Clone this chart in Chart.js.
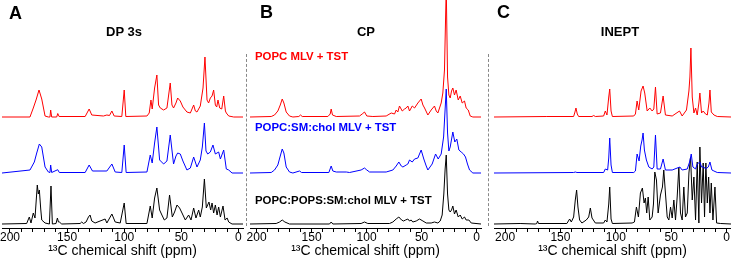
<!DOCTYPE html>
<html>
<head>
<meta charset="utf-8">
<script src="https://cdn.jsdelivr.net/npm/chart.js@4.4.1/dist/chart.umd.min.js"></script>
<style>
body{margin:0;width:731px;height:259px;overflow:hidden;background:#fff;font-family:"Liberation Sans",Arial,sans-serif;position:relative}
.panel{position:absolute;top:0}
.txt{position:absolute;white-space:nowrap;line-height:1}
.letter{font-size:18px;font-weight:bold}
.head{font-size:13px;font-weight:bold;transform:translateX(-50%)}
.sample{font-size:11.4px;font-weight:bold}
.dash{position:absolute;top:54px;height:172px;width:0;border-left:1px dashed #888}
</style>
</head>
<body>
<div class="panel" id="pA"><canvas id="chartA"></canvas></div>
<div class="panel" id="pB"><canvas id="chartB"></canvas></div>
<div class="panel" id="pC"><canvas id="chartC"></canvas></div>

<div class="dash" style="left:246px"></div>
<div class="dash" style="left:488px"></div>

<div class="txt letter" style="left:9px;top:4px">A</div>
<div class="txt letter" style="left:260px;top:3px">B</div>
<div class="txt letter" style="left:497px;top:3px">C</div>
<div class="txt head" style="left:124px;top:25px">DP 3s</div>
<div class="txt head" style="left:366px;top:25px">CP</div>
<div class="txt head" style="left:620px;top:25px">INEPT</div>
<div class="txt sample" style="left:255px;top:51px;color:#ff0000">POPC MLV + TST</div>
<div class="txt sample" style="left:255px;top:122px;color:#0000ff">POPC:SM:chol MLV + TST</div>
<div class="txt sample" style="left:255px;top:195px;color:#000">POPC:POPS:SM:chol MLV + TST</div>

<script>
// spectra: [ppm, intensity]

// A - DP 3s
const dpPopc = [[207,0],[182.5,0],[179.6,9],[177.2,17],[174.6,27],[172.2,18],[169.3,1],[166.4,0],[165,0],[164.4,7],[163.5,0],[159.1,0],[158.2,3.5],[157,0.5],[134.2,0.5],[130.7,8],[128.4,2],[118.2,1],[115.2,2],[112.9,1.5],[110.8,6],[108.8,1],[102.1,0.5],[100,27],[98.6,0.5],[80.1,1],[78.1,4],[76.6,17],[75.5,8],[73.4,29],[71.4,42],[69.9,12],[68.4,9],[65.5,7],[62.6,9],[59.7,34],[58.2,12],[56.8,9],[54.7,14],[53.2,19],[50.9,16],[48.6,10],[45.1,5],[42.1,4],[39.2,12],[37.7,6],[36.3,5],[33.4,11],[31,29],[29.3,60],[27.5,17],[26.1,14],[24.6,19],[23.1,21],[21.7,27],[20.2,12],[19,10],[17.9,17],[16.4,9],[14.6,8],[12.9,21],[11.4,6],[10.6,4],[8.5,1],[4.1,0],[-4,0]];
const dpSm = [[207,0],[182.5,3],[178.7,11],[176.6,20],[174.3,29],[172.2,26],[169.3,6],[166.4,1],[165,0.5],[164.4,8],[163.5,0.5],[158.2,3.3],[156.8,0.5],[134.2,0.5],[130.7,8],[127.8,2],[115.2,2],[110.8,9],[107.9,1],[102.1,0.5],[100,28],[98.3,0.5],[80.1,1],[77.2,18],[75.5,10],[73.4,30],[71.4,46],[69,13],[65.5,9],[62.6,12],[59.7,38],[56.8,9],[54.7,17],[53.2,20],[50.9,19],[48.6,12],[45.1,3],[42.1,5],[39.2,16],[36.3,6],[33.4,13],[31.6,26],[29.8,50],[28.4,22],[26.9,19],[24.6,21],[22.3,28],[20.2,19],[17.3,21],[15.8,14],[12.9,23],[10.6,4],[8.5,3],[5.6,0],[-4,0]];
const dpPops = [[207,0],[185.4,0.5],[183.1,7],[181.6,1],[179.6,11],[178.1,6],[176.1,39],[175.2,30],[174.3,34],[173.1,15],[172.2,4],[169.3,1],[165.5,0],[164.1,38],[162.9,0],[159.7,0.5],[158.5,6],[157.6,2],[156.8,2],[154.7,0],[138.6,0.5],[137.2,2],[135.7,0.5],[133.4,2],[131.3,7],[129.9,9],[128.4,3],[125.5,1],[116.7,5],[115.2,1],[110.8,10],[107.9,2],[103.5,1],[100,21],[98.3,0.5],[80.1,0.5],[77.2,18],[75.5,6],[73.4,26],[71.4,36],[69,14],[67,9],[64.9,4],[62.6,6],[60.3,29],[57.9,7],[55.9,12],[53.8,19],[51.5,16],[49.4,11],[46.5,4],[43.6,9],[41.5,4],[39.2,16],[37.2,6],[34.8,14],[33.4,7],[31.6,17],[29.8,45],[28.1,16],[25.8,22],[24.3,14],[23.1,21],[21.7,11],[20.2,19],[18.7,9],[17.3,17],[15.8,7],[13.5,18],[11.7,4],[9.9,6],[8.5,2],[5.6,0],[-4,0]];

// B - CP
const cpPopc = [[206,0],[186.7,0.5],[183.7,2],[180.7,6],[178.5,12],[176.7,18],[175.2,14],[173.1,5],[170.1,1],[167,0],[161.6,0.5],[160.1,2],[158.5,0.5],[135.2,0.5],[133.1,3],[132.2,8],[131,2],[127.6,0.5],[106.4,1],[104,3],[101.9,5],[99.8,1],[94.3,0.5],[82.2,1],[77.6,4],[74.6,3],[73.1,7],[71.6,5],[70.1,11],[67.6,6],[65.5,8],[64,9],[62.5,11],[61,6],[58.5,11],[56.4,9],[53.4,14],[50.4,18],[48.8,12],[47.3,9],[44.3,2],[41.3,7],[38.3,11],[36.7,6],[35.2,4],[32.2,14],[30.7,24],[29.2,47],[27.6,130],[26.4,40],[25.2,22],[24,19],[22.8,26],[21.6,29],[20.1,22],[18.6,27],[16.7,17],[14.9,21],[13.1,14],[11,16],[9.5,9],[7.6,7],[5.8,1],[3.4,0],[-4,0]];
const cpSm = [[206,0],[186.7,0.5],[183.7,3],[180.7,8],[178.5,17],[176.7,24],[175.2,20],[173.1,6],[170.1,1],[167,0],[161,2],[159.1,0.5],[134.3,0.5],[132.2,7],[130.7,2],[127.6,1],[118.5,1],[115.5,0.5],[105,3],[101.9,5],[99.8,3],[97.3,1],[82.2,1],[76.1,3],[73.1,7],[70.7,11],[68.5,7],[67,6],[64,8],[62.5,9],[61,13],[58.5,11],[56.4,14],[53.4,15],[50.4,23],[48,14],[45.8,7],[44.3,3],[40.4,9],[37.3,19],[34.9,14],[32.2,19],[30,36],[28.8,60],[27.6,84],[26.4,40],[25.2,22],[24,26],[21.6,41],[19.8,31],[18,34],[16.1,23],[14,21],[11.9,19],[10.1,16],[8.3,9],[6.4,3],[3.4,0],[-4,0]];
const cpPops = [[206,0],[182.2,0.5],[179.1,2],[176.7,4],[174.3,2],[170.1,0],[133.7,0],[132.2,2],[130.7,0],[105,0.5],[101.9,2],[98.9,0.5],[79.2,0.5],[76.1,2],[73.1,5],[70.7,7],[68.2,4],[66.4,3],[64.6,4],[62.5,5],[61,3],[59.5,4],[58,2],[54.9,3],[51.9,5],[48.8,3],[45.8,1],[41.3,1],[38.3,2],[35.2,1],[33.1,3],[31.3,9],[29.8,30],[28.6,55],[27.6,69],[26.4,30],[25.2,14],[24,12],[22.8,14],[21.6,18],[20.1,10],[18.6,14],[16.7,7],[14.9,9],[13.1,5],[11,7],[9.5,4],[7,4],[4.9,1],[-4,0]];

// C - INEPT
const inPopc = [[210,0],[162.3,0.5],[138.1,0.5],[136.9,5],[136,9],[134.8,3],[133.6,0.5],[121.5,0.5],[120,1.5],[118.5,0.5],[111,1],[109.5,6],[108,2],[106.4,20],[105.5,28],[104.3,6],[103.1,0.5],[83.8,1],[82.3,3],[80.8,16],[79.3,7],[77.2,26],[75.4,31],[73.9,24],[71.7,6],[69.3,9],[67.2,6],[65.7,8],[64.2,30],[62.7,3],[59.7,4],[57.3,21],[55.2,2],[49.1,1],[42.5,6],[40.1,1],[36.2,7],[34,26],[33.1,40],[32.2,69],[31,20],[29.5,4],[28,9],[26.5,2],[25,14],[24.1,24],[22.6,4],[21.1,6],[19,3],[17.4,2],[15.9,14],[15,27],[13.8,5],[11.4,2],[8.4,0.5],[-4,0]];
const inSm = [[210,0],[138.1,0.5],[136.6,1],[135.1,0.5],[111,0.5],[109.5,4],[107.4,3],[106.4,15],[105.5,35],[104.3,8],[103.1,0.5],[83.8,0.5],[82.3,2],[80.8,19],[79,12],[77.5,27],[76.3,33],[75.4,40],[74.2,23],[72.4,13],[70.2,6],[67.2,4],[65.7,6],[64.2,38],[62.7,4],[59.7,4],[57.3,14],[55.2,3],[49.1,3],[42.2,6],[40.1,3],[35.5,4],[33.4,11],[31.9,19],[30.4,6],[28,4],[26.5,9],[24.1,11],[22.6,6],[20.5,6],[19,4],[16.5,6],[15,11],[13.2,3],[11.4,2],[8.4,0.5],[-4,0]];
const inPops = [[210,0],[186.4,0.5],[172.8,0],[171.3,0.5],[170.7,3],[169.8,0.5],[144.2,0.5],[141.7,5],[140.2,2],[138.1,7],[136.6,24],[135.4,34],[134.2,17],[132.7,4],[130.6,1],[126.7,4],[124.5,7],[123,16],[121.5,6],[118.5,1],[111,1],[109.5,4],[108,2],[106.4,20],[105.5,37],[104.3,5],[103.1,0.5],[85.3,1],[83.2,2],[81.4,17],[79.6,7],[77.8,31],[76,36],[74.5,21],[73.3,26],[72.1,11],[70.8,27],[69.3,4],[67.2,7],[66,20],[64.8,52],[63.3,44],[61.8,11],[59.7,29],[57.9,37],[56.7,54],[55.2,31],[53.6,7],[52.1,4],[50.6,17],[49.1,6],[47.6,24],[46.1,4],[44.6,27],[43.1,57],[41.6,11],[40.1,4],[38.6,37],[37.1,7],[35.5,11],[34,51],[32.5,67],[31,24],[29.5,47],[28,4],[26.5,62],[25,1],[24.1,77],[22.6,21],[21.1,61],[19.9,7],[18.7,61],[17.4,21],[16.2,47],[15,11],[13.8,41],[12.3,4],[10.5,37],[9,1],[5.3,0.5],[-4,0]];

// axis ticks (every 10 ppm), labelled every 50
const tickValues = [0, 10, 20, 30, 40, 50, 60, 70, 80, 90, 100, 110, 120, 130, 140, 150, 160, 170, 180, 190, 200];
const labelTicks = [200, 150, 100, 50, 0];

const lineColors = ['#ff0000', '#0000ff', '#000000'];
const baseOffsets = [111, 55, 4];

Chart.defaults.font.family = '"Liberation Sans", Arial, sans-serif';
Chart.defaults.color = '#000';

const panels = [
    {el:'pA', id:'chartA', left:0, width:247, min:-4, max:207, padL:2, padR:4, spectra:[dpPopc, dpSm, dpPops]},
    {el:'pB', id:'chartB', left:246, width:239, min:-4, max:206, padL:4, padR:4, spectra:[cpPopc, cpSm, cpPops]},
    {el:'pC', id:'chartC', left:490, width:241, min:-4, max:210, padL:4, padR:0, spectra:[inPopc, inSm, inPops]}
];

function makeChart(p){
    const box = document.getElementById(p.el);
    box.style.left = p.left + 'px';
    const cv = document.getElementById(p.id);
    cv.width = p.width; cv.height = 259;
    cv.style.width = p.width + 'px'; cv.style.height = '259px';
    const datasets = p.spectra.map((s, i) => ({
        data: s.map(pt => ({x: pt[0], y: pt[1] + baseOffsets[i]})),
        borderColor: lineColors[i], borderWidth: 1, pointRadius: 0, showLine: true, tension: 0, fill: false
    }));
    return new Chart(cv.getContext('2d'), {
        type: 'scatter',
        data: {datasets},
        options: {
            responsive: false, animation: false, devicePixelRatio: 1,
            layout: {padding: {left: p.padL, right: p.padR, top: 0, bottom: 0}},
            plugins: {legend: {display: false}, tooltip: {enabled: false}},
            scales: {
                x: {
                    type: 'linear', reverse: true, min: p.min, max: p.max,
                    afterBuildTicks: axis => { axis.ticks = tickValues.map(v => ({value: v})); },
                    border: {display: true, color: '#000', width: 1},
                    grid: {drawOnChartArea: false, drawTicks: true, tickLength: 4, color: '#000'},
                    ticks: {autoSkip: false, maxRotation: 0, padding: 0,
                        font: {size: 12, lineHeight: 1}, color: '#000',
                        callback: v => labelTicks.includes(v) ? String(v) : ''},
                    title: {display: true, text: '\u00b9\u00b3C chemical shift (ppm)', font: {size: 14, lineHeight: 1}, color: '#000', padding: {top: 0, bottom: 1}}
                },
                y: {display: false, min: 0, max: 228}
            }
        }
    });
}

panels.forEach(makeChart);
</script>
</body>
</html>
